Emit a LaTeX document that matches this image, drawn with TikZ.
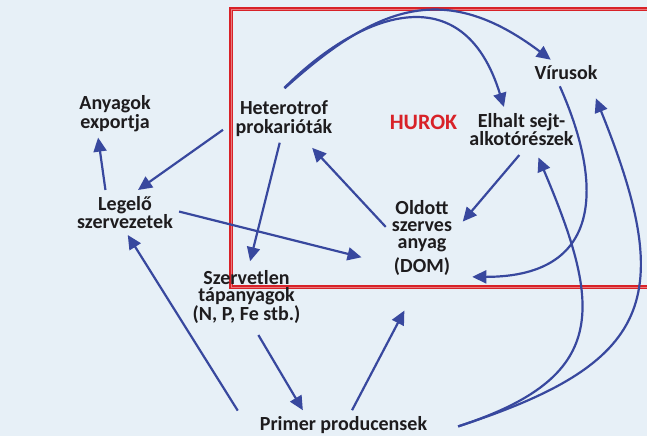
\documentclass[tikz,border=0pt]{standalone}
\usepackage{fontspec}
\setmainfont{Carlito}
\usepackage{tikz}
\usetikzlibrary{arrows.meta}

\definecolor{paleblue}{RGB}{231,240,247}
\definecolor{flowblue}{RGB}{56,72,158}
\definecolor{hurokred}{RGB}{216,34,40}
\definecolor{ink}{RGB}{30,28,30}

\begin{document}
\begin{tikzpicture}[x=1pt, y=-1pt,
  term/.style={align=center, inner sep=6pt, text=ink,
    font=\bfseries\fontsize{20}{17}\selectfont},
  %
  hurokbox/.style ={draw=hurokred, line width=1.5pt,
    double=hurokred!60!white, double distance=0.9pt},
  %
  flowarrow/.style ={draw=flowblue, line width=2.2pt,
    -{Triangle[length=14pt, width=13pt]}}
  ]

  \useasboundingbox (0,0) rectangle (647,436);
  \fill [paleblue] (0,0) rectangle (647,436);
  \clip (0,0) rectangle (647,436);

  % the loop of the microbial web
  \draw [hurokbox] (231,9) rectangle (670,287);

  \begin{scope}
    \node [term] (export) at (115,113.5) {Anyagok\\exportja};
    \node [term] (legelo) at (125,212.5) {Legelő\\szervezetek};
    \node [term] (hetprok) at (284,118.5) {Heterotrof\\[2pt]prokarióták};
    \node [term, text=hurokred, font=\bfseries\fontsize{22}{20}\selectfont]
      (hurok) at (423.5,122.5) {HUROK};
    \node [term] (elhalt) at (521.5,129.5) {Elhalt sejt-\\alkotórészek};
    \node [term] (virus) at (566,73) {Vírusok};
    \node [term] (dom) at (422,238) {Oldott\\szerves\\anyag\\[4pt](DOM)};
    \node [term] (szervetlen) at (246.5,297) {Szervetlen\\tápanyagok\\(N, P, Fe stb.)};
    \node [term] (primer) at (343.5,425) {Primer producensek};
  \end{scope}

  \begin{scope}
    \draw [flowarrow] (legelo.131) -- (export.235);
    \draw [flowarrow, shorten <=8pt] (hetprok.187) -- (legelo.60);
    \draw [flowarrow, shorten >=25pt] (legelo.1) -- (dom.215);
    \draw [flowarrow, shorten >=3pt] (hetprok.260) -- (szervetlen.85);
    \draw [flowarrow, shorten <=6pt] (szervetlen.285) -- (primer.160);
    \draw [flowarrow, shorten <=30pt] (primer.187) -- (legelo.277);
    \draw [flowarrow, shorten >=33pt] (primer.60) -- (dom.267);
    \draw [flowarrow, shorten >=7pt] (dom.163) -- (hetprok.314);
    \draw [flowarrow, shorten <=4pt, shorten >=7pt] (elhalt.271) -- (dom.17);

    % arcs over the top of the loop
    \draw [flowarrow, shorten <=9pt] (hetprok.104)
      to [out=45, in=107, out distance=115pt, in distance=140pt] (elhalt.128);
    \draw [flowarrow, shorten <=9pt] (hetprok.104)
      to [out=42, in=143, distance=133pt] (virus.139);
    \draw [flowarrow, shorten >=14pt] (virus.245)
      to [out=294, in=0, out distance=100pt, in distance=150pt] (dom.313);

    % arcs rising from the primary producers
    \draw [flowarrow, shorten <=26pt, shorten >=6pt] (primer.354)
      to [out=18, in=293, out distance=185pt, in distance=170pt] (elhalt.303);
    \draw [flowarrow, shorten <=26pt, shorten >=13pt] (primer.354)
      to [out=18, in=292, distance=230pt] (virus.332);
  \end{scope}

\end{tikzpicture}
\end{document}
